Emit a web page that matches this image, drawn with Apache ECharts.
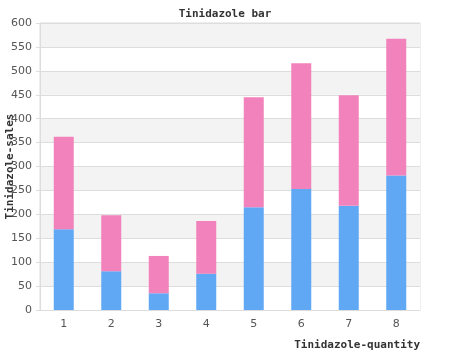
<!DOCTYPE html>
<html><head><meta charset="utf-8">
<script src="https://cdn.jsdelivr.net/npm/echarts@6/dist/echarts.min.js"></script>
<style>html,body{margin:0;padding:0;background:#fff}#c{width:450px;height:350px}</style>
</head><body><div id="c"></div>
<script>
var categories = ['1','2','3','4','5','6','7','8'];
var blueValues = [169, 81, 35, 76, 215, 253, 218, 281];
var pinkValues = [193, 117, 78, 110, 230, 263, 231, 286];

var chart = echarts.init(document.getElementById('c'), null, {renderer:'canvas'});
chart.setOption({
  animation:false,
  backgroundColor:'#fff',
  title:{text:'Tinidazole bar', left:'center', top:4,
    textStyle:{fontFamily:'DejaVu Sans Mono', fontSize:11, fontWeight:'bold', color:'#333'}},
  grid:{left:40, right:30, top:23, bottom:40, containLabel:false, outerBoundsMode:'none',
    show:true, borderColor:'#ddd', borderWidth:1},
  xAxis:{type:'category', data:categories,
    name:'Tinidazole-quantity', nameLocation:'end',
    nameGap:0, nameMoveOverlap:false,
    nameTextStyle:{fontFamily:'DejaVu Sans Mono', fontWeight:'bold', fontSize:11, color:'#333',
      align:'right', verticalAlign:'top', padding:[30,0,0,0]},
    axisLine:{lineStyle:{color:'#ddd'}},
    axisTick:{show:false},
    axisLabel:{color:'#555', fontFamily:'DejaVu Sans', fontSize:11, margin:9}},
  yAxis:{type:'value', min:0, max:600, interval:50,
    name:'Tinidazole-sales', nameLocation:'middle', nameGap:24, nameMoveOverlap:false,
    nameTextStyle:{fontFamily:'DejaVu Sans Mono', fontWeight:'bold', fontSize:11, color:'#333'},
    axisLine:{show:true, lineStyle:{color:'#ddd'}},
    axisTick:{show:true, length:4, lineStyle:{color:'#ddd'}},
    axisLabel:{color:'#555', fontFamily:'DejaVu Sans', fontSize:11, margin:8},
    splitLine:{lineStyle:{color:'#ddd'}},
    splitArea:{show:true, areaStyle:{color:['#ffffff','#f3f3f3']}}},
  series:[
    {type:'bar', stack:'a', data:blueValues, barWidth:20, itemStyle:{color:'#60a8f4'}},
    {type:'bar', stack:'a', data:pinkValues, barWidth:20, itemStyle:{color:'#f282bb'}}
  ]
});
</script></body></html>
